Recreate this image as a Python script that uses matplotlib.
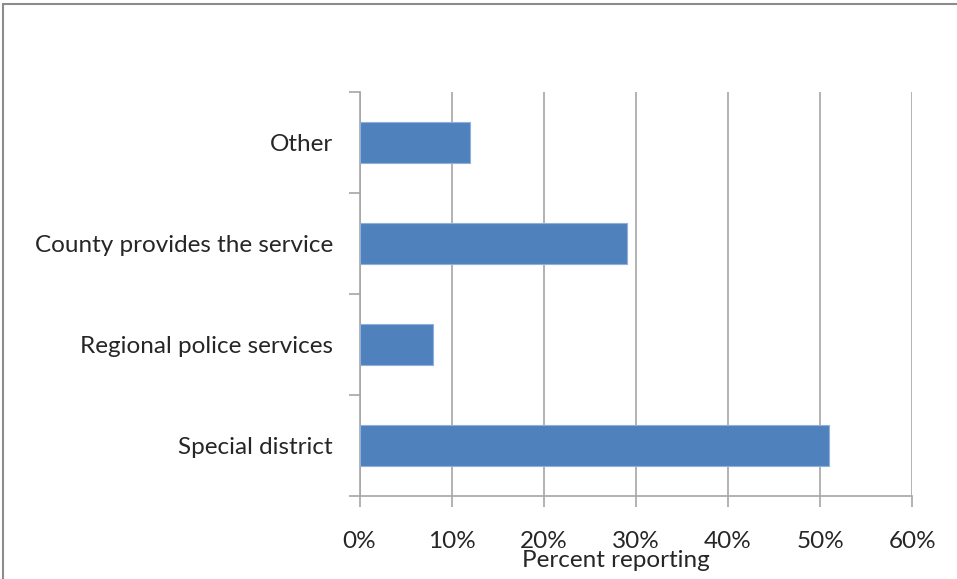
import matplotlib
matplotlib.use("Agg")
import matplotlib.pyplot as plt
from matplotlib.patches import Rectangle
from matplotlib.ticker import FuncFormatter, FixedLocator

categories = ["Special district", "Regional police services",
              "County provides the service", "Other"]
percent = [51, 8, 29, 12]
xticks = [0, 10, 20, 30, 40, 50, 60]

W, H = 957, 579
fig = plt.figure(figsize=(W / 100, H / 100), dpi=100)
plt.rcParams['font.family'] = ['Lato', 'DejaVu Sans']

txt_c = '#262626'
grid_c = '#a6a6a6'
fs = 17.5

# outer chart frame (top and left edges visible)
fig.patches.append(Rectangle((2.5 / W, -0.1), 1.2, 1 - 4.5 / H + 0.1,
                             transform=fig.transFigure, fill=False,
                             edgecolor='#8c8c8c', linewidth=1.5))

x0, x1 = 359.5, 912.3
y_top, y_bot = 92, 496
ax = fig.add_axes([x0 / W, 1 - y_bot / H, (x1 - x0) / W, (y_bot - y_top) / H])

ypos = range(len(categories))
ax.barh(ypos, percent, height=0.4, color='#4F81BD', edgecolor='#8EB0DA',
        linewidth=0.8, zorder=3)

ax.set_xlim(0, 60)
ax.set_ylim(-0.5, len(categories) - 0.5)
ax.set_xticks(xticks)
ax.xaxis.set_major_formatter(FuncFormatter(lambda v, p: f"{v:.0f}%"))
ax.set_yticks(list(ypos))
ax.set_yticklabels(categories)
ax.yaxis.set_minor_locator(FixedLocator([-0.5, 0.5, 1.5, 2.5, 3.5]))
ax.tick_params(axis='y', which='major', length=0, pad=19, labelsize=fs,
               labelcolor=txt_c)
ax.tick_params(axis='y', which='minor', length=8, color=grid_c, width=1.2,
               direction='out')
ax.tick_params(axis='x', length=8, color=grid_c, width=1.2, pad=17,
               labelsize=fs, labelcolor=txt_c)

ax.grid(axis='x', color=grid_c, linewidth=1.2, zorder=0)
for s in ['top', 'right']:
    ax.spines[s].set_visible(False)
for s in ['left', 'bottom']:
    ax.spines[s].set_color(grid_c)
    ax.spines[s].set_linewidth(1.2)

fig.text(616 / W, 1 - 567 / H, "Percent reporting", ha='center',
         va='baseline', fontsize=fs, color=txt_c)

fig.savefig("out.png", dpi=100)
